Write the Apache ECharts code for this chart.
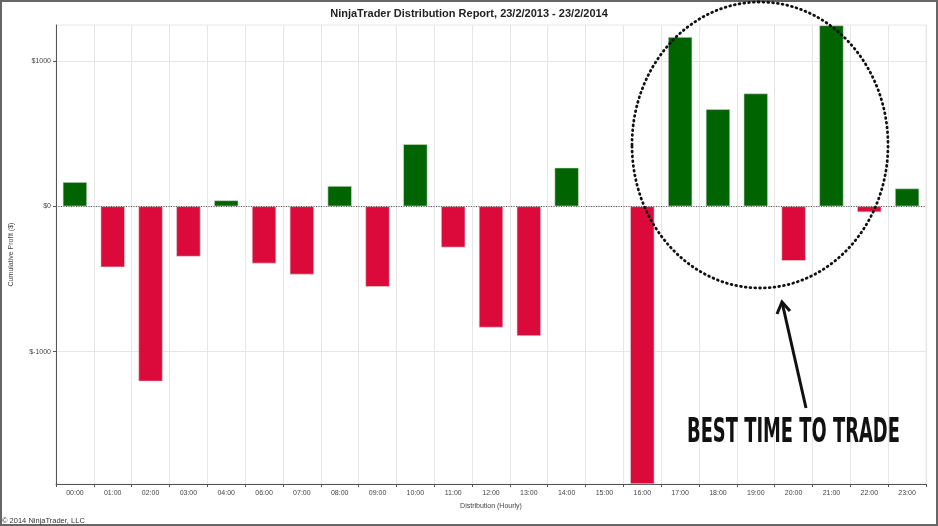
<!DOCTYPE html>
<html>
<head>
<meta charset="utf-8">
<script src="https://cdn.jsdelivr.net/npm/echarts@6/dist/echarts.min.js"></script>
<style>
  html, body { margin: 0; padding: 0; background: #fff; }
  #chart { width: 938px; height: 526px; }
</style>
</head>
<body>
<div id="chart"></div>
<script>
// hourly buckets (05:00 has no trades, it is not in the report)
var hours = ['00:00', '01:00', '02:00', '03:00', '04:00', '06:00', '07:00', '08:00', '09:00', '10:00', '11:00',
    '12:00', '13:00', '14:00', '15:00', '16:00', '17:00', '18:00', '19:00', '20:00', '21:00', '22:00', '23:00']
var profit = [167, -419, -1205, -346, 41, -393, -469, 140, -554, 428, -283,
    -834, -892, 266, 0, -1911, 1165, 669, 777, -375, 1245, -40, 123]
var yTicks = [-1000, 0, 1000]

var GREEN = '#006400'
var RED = '#dc0a3a'

var chart = echarts.init(document.getElementById('chart'))

var option = {
    animation: false,
    title: {
        text: 'NinjaTrader Distribution Report, 23/2/2013 - 23/2/2014',
        left: 'center',
        top: 3,
        textStyle: { fontFamily: 'Liberation Sans', fontSize: 11, fontWeight: 'bold', color: '#222' }
    },
    grid: { left: 56, right: 12, top: 25, bottom: 42, show: true, borderColor: '#e6e6e6', borderWidth: 1 },
    xAxis: {
        type: 'category',
        data: hours,
        position: 'bottom',
        name: 'Distribution (Hourly)',
        nameLocation: 'middle',
        nameGap: 19,
        nameTextStyle: { fontFamily: 'Liberation Sans', fontSize: 7, color: '#444' },
        axisLine: { onZero: false, lineStyle: { color: '#555', width: 1 } },
        axisTick: { show: true, length: 3, lineStyle: { color: '#555' } },
        axisLabel: { fontFamily: 'Liberation Sans', fontSize: 7, color: '#444', margin: 6 },
        splitLine: { show: true, lineStyle: { color: '#e6e6e6', width: 1 } }
    },
    yAxis: {
        type: 'value',
        min: -1911,
        max: 1248,
        splitNumber: 3,
        name: 'Cumulative Profit ($)',
        nameLocation: 'middle',
        nameGap: 41,
        nameTextStyle: { fontFamily: 'Liberation Sans', fontSize: 7, color: '#444' },
        axisLine: { show: true, lineStyle: { color: '#555', width: 1 } },
        axisTick: { show: true, length: 3, customValues: yTicks, lineStyle: { color: '#555' } },
        axisLabel: {
            fontFamily: 'Liberation Sans', fontSize: 7, color: '#444', margin: 5,
            customValues: yTicks,
            formatter: function (v) {
                return '$' + v
            }
        },
        splitLine: { show: true, lineStyle: { color: '#e6e6e6', width: 1 } }
    },
    series: [
        {
            type: 'bar',
            data: profit,
            barWidth: '64%',
            itemStyle: {
                color: function (p) {
                    return p.value >= 0 ? GREEN : RED
                },
                borderColor: '#d8d8d8',
                borderWidth: 0.6
            },
            markLine: {
                silent: true,
                symbol: 'none',
                label: { show: false },
                lineStyle: { color: '#555', type: [1, 1.5], width: 1 },
                data: [{ yAxis: 0 }]
            }
        }
    ],
    graphic: [
        // frame round the picture
        {
            type: 'rect',
            shape: { x: 1, y: 1, width: 936, height: 524 },
            style: { fill: 'none', stroke: '#666', lineWidth: 2 },
            silent: true
        },
        {
            type: 'text',
            left: 2,
            top: 517,
            style: { text: '\u00a9 2014 NinjaTrader, LLC', font: '7.5px "Liberation Sans"', fill: '#333' }
        },
        // hand-drawn note
        {
            type: 'ellipse',
            shape: { cx: 760, cy: 145, rx: 128, ry: 143 },
            style: { fill: 'none', stroke: '#111', lineWidth: 2.8, lineDash: [0.8, 4], lineCap: 'round' },
            z: 100
        },
        {
            type: 'polyline',
            shape: { points: [[806, 408], [782, 302]] },
            style: { stroke: '#111', lineWidth: 3, fill: 'none' },
            z: 100
        },
        {
            type: 'polyline',
            shape: { points: [[777, 314], [782, 302], [790, 311]] },
            style: { stroke: '#111', lineWidth: 3, fill: 'none', lineJoin: 'miter' },
            z: 100
        },
        {
            type: 'text',
            x: 687,
            y: 416,
            scaleX: 0.585,
            style: {
                text: 'BEST TIME TO TRADE',
                font: 'bold 34px "Liberation Sans Narrow", "DejaVu Sans Condensed", sans-serif',
                fill: '#111',
                textVerticalAlign: 'top'
            },
            z: 100
        }
    ]
}

chart.setOption(option)
</script>
</body>
</html>
